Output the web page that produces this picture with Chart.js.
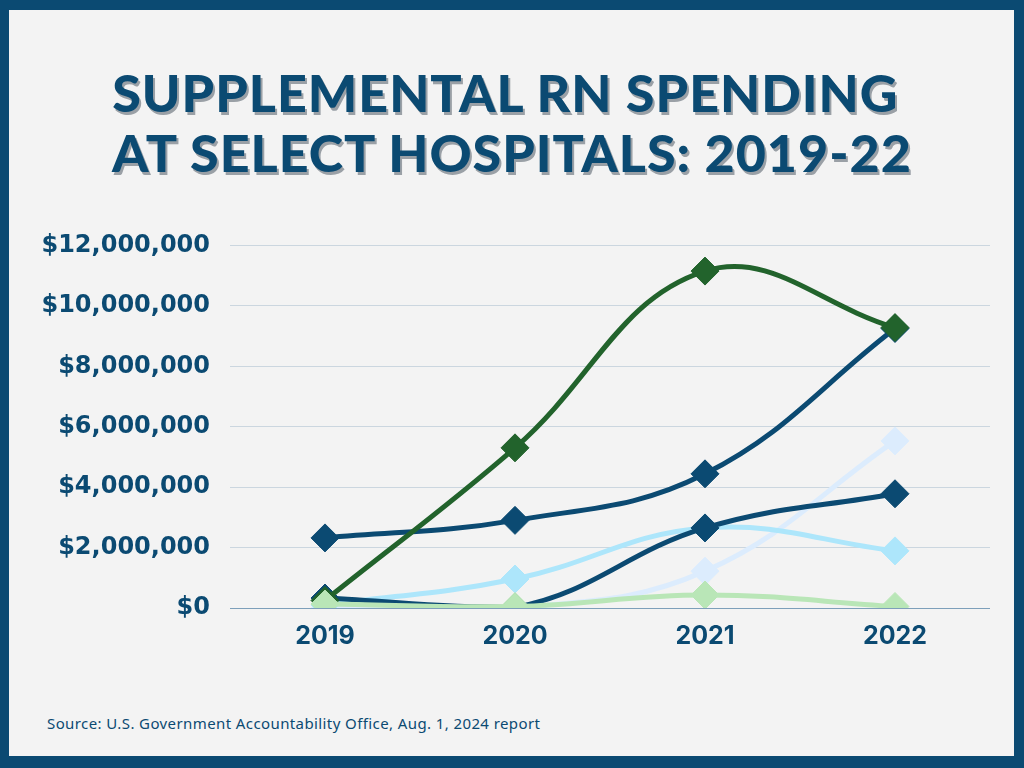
<!DOCTYPE html>
<html>
<head>
<meta charset="utf-8">
<script src="https://cdn.jsdelivr.net/npm/chart.js@4.4.1/dist/chart.umd.min.js"></script>
<style>
  html, body { margin: 0; padding: 0; }
  body { width: 1024px; height: 768px; background: #0b4a72; position: relative; overflow: hidden; }
  #panel { position: absolute; left: 9px; top: 10px; width: 1005px; height: 746px; background: #f3f3f3; }
  #title {
    position: absolute; left: 0; top: 62px; width: 1024px; text-align: center;
    font-family: "Lato", sans-serif; font-weight: 900; font-size: 52px; line-height: 60px;
    color: #0b4a72; letter-spacing: 1px; text-shadow: 2px 3px 0 #9aa0a6;
  }
  #chart-box { position: absolute; left: 0; top: 211px; width: 1024px; height: 449px; }
  #source {
    position: absolute; left: 47px; top: 713px; letter-spacing: 0.4px;
    font-family: "Noto Sans", sans-serif; font-size: 15px; color: #0b4a72;
  }
</style>
</head>
<body>
<div id="panel"></div>
<div id="title">SUPPLEMENTAL RN SPENDING&nbsp;<br>AT SELECT HOSPITALS: 2019-22</div>
<div id="chart-box"><canvas id="rn-chart" width="1024" height="449"></canvas></div>
<div id="source">Source: U.S. Government Accountability Office, Aug. 1, 2024 report</div>
<script>
// categories
var years = ["2019", "2020", "2021", "2022"];

// one series per hospital (dollars)
var hosp_dark_green = [250000, 5300000, 11150000, 9280000];
var hosp_navy_a = [2320000, 2900000, 4440000, 9250000];
var hosp_navy_b = [330000, 20000, 2650000, 3780000];
var hosp_light_blue = [100000, 960000, 2650000, 1890000];
var hosp_pale_blue = [0, 0, 1220000, 5530000];
var hosp_light_green = [130000, 50000, 430000, 50000];

// y axis ticks
var y_max = 12000000;
var y_step = 2000000;

var navy = "#0b4a72";

function make_set(data, colour) {
  return {
    data: data,
    borderColor: colour,
    backgroundColor: colour,
    borderWidth: 5,
    tension: 0.4,
    pointStyle: "rectRot",
    pointRadius: 14,
    pointHoverRadius: 14,
    pointBorderWidth: 1,
    fill: false
  };
}

function setup_chart() {
  // dataset 0 is painted last, so it sits on top
  var sets = [
    make_set(hosp_light_green, "#b9e6b7"),
    make_set(hosp_dark_green, "#22632c"),
    make_set(hosp_navy_a, navy),
    make_set(hosp_navy_b, navy),
    make_set(hosp_light_blue, "#ade6fb"),
    make_set(hosp_pale_blue, "#dcecfd")
  ];

  new Chart("rn-chart", {
    type: "line",
    data: { labels: years, datasets: sets },
    options: {
      responsive: false,
      animation: false,
      layout: { padding: { top: 0, right: 34, left: 0, bottom: 0 } },
      plugins: {
        legend: { display: false },
        tooltip: { enabled: false }
      },
      scales: {
        x: {
          offset: true,
          grid: { display: false },
          border: { display: false },
          ticks: {
            color: navy,
            padding: 5,
            font: { family: "Inter", weight: "bold", size: 25 }
          },
          afterFit: function(axis) { axis.height = 52; }
        },
        y: {
          min: 0,
          max: y_max,
          border: { display: false },
          grid: {
            drawTicks: false,
            lineWidth: 1,
            color: function(ctx) { return ctx.tick && ctx.tick.value === 0 ? "#7d9fba" : "#cbd6df"; }
          },
          ticks: {
            stepSize: y_step,
            color: navy,
            padding: 20,
            font: { family: "DejaVu Sans", weight: "bold", size: 24 },
            callback: function(v) { return "$" + v.toLocaleString("en-US"); }
          },
          afterFit: function(axis) { axis.width = 230; }
        }
      }
    }
  });
}

document.addEventListener("DOMContentLoaded", setup_chart);
</script>
</body>
</html>
